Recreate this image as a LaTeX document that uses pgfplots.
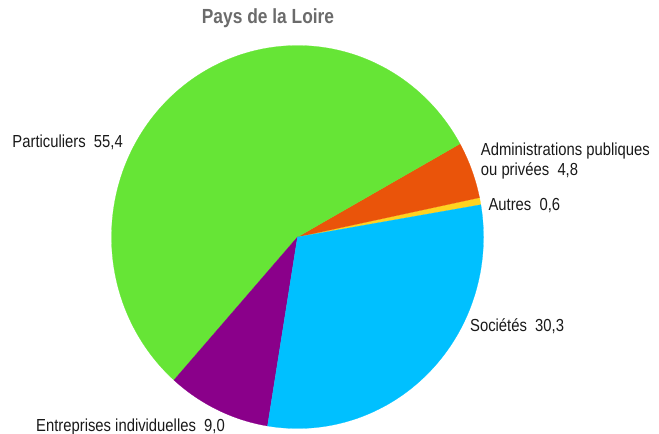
\documentclass[border=0pt]{standalone}
\usepackage{fontspec}
\setmainfont{Liberation Sans}[FakeStretch=0.85]
\usepackage{pgfplots}
\pgfplotsset{compat=1.18}

\definecolor{cPart}{HTML}{66E536}
\definecolor{cAdm}{HTML}{EA540A}
\definecolor{cAut}{HTML}{FFD320}
\definecolor{cSoc}{HTML}{00C0FF}
\definecolor{cEnt}{HTML}{8A008A}

% shares in percent, counter-clockwise from the right
\def\vAut{0.6}
\def\vAdm{4.8}
\def\vPart{55.4}
\def\vEnt{9.0}
\def\vSoc{30.3}
\pgfmathsetmacro\tot{\vAut+\vAdm+\vPart+\vEnt+\vSoc}
\pgfmathsetmacro\k{360/\tot}
\pgfmathsetmacro\aA{9.7}
\pgfmathsetmacro\aB{\aA+\k*\vAut}
\pgfmathsetmacro\aC{\aB+\k*\vAdm}
\pgfmathsetmacro\aD{\aC+\k*\vPart}
\pgfmathsetmacro\aE{\aD+\k*\vEnt}
\pgfmathsetmacro\aF{\aE+\k*\vSoc}

\tikzset{lbl/.style={text=black!90,font=\fontsize{17.5}{20}\selectfont,inner sep=0pt}}

\begin{document}
\begin{tikzpicture}
\begin{axis}[hide axis,x=186bp,y=191.5bp,
  xmin=-1.5995,xmax=1.9435,ymin=-1.0287,ymax=1.2376,clip=false]
\addplot[fill=cAut,draw=cAut,line width=0.2pt,domain=\aA:\aB,samples=6] ({cos(x)},{sin(x)}) -- (axis cs:0,0) -- cycle;
\addplot[fill=cAdm,draw=cAdm,line width=0.2pt,domain=\aB:\aC,samples=20] ({cos(x)},{sin(x)}) -- (axis cs:0,0) -- cycle;
\addplot[fill=cPart,draw=cPart,line width=0.2pt,domain=\aC:\aD,samples=150] ({cos(x)},{sin(x)}) -- (axis cs:0,0) -- cycle;
\addplot[fill=cEnt,draw=cEnt,line width=0.2pt,domain=\aD:\aE,samples=30] ({cos(x)},{sin(x)}) -- (axis cs:0,0) -- cycle;
\addplot[fill=cSoc,draw=cSoc,line width=0.2pt,domain=\aE:\aF,samples=90] ({cos(x)},{sin(x)}) -- (axis cs:0,0) -- cycle;

\node[anchor=base,inner sep=0pt,text=black!58,font=\fontsize{20.5}{24}\selectfont\bfseries] at (axis cs:-0.1586,1.1123) {Pays de la Loire};
\node[lbl,anchor=base east] at (axis cs:-0.938,0.467) {Particuliers~~55,4};
\node[lbl,anchor=base west] at (axis cs:0.985,0.4245) {Administrations publiques};
\node[lbl,anchor=base west] at (axis cs:0.985,0.320) {ou privées~~4,8};
\node[lbl,anchor=base west] at (axis cs:1.026,0.136) {Autres~~0,6};
\node[lbl,anchor=base west] at (axis cs:0.927,-0.4945) {Sociétés~~30,3};
\node[lbl,anchor=base west] at (axis cs:-1.406,-1.0172) {Entreprises individuelles~~9,0};
\end{axis}
\pgfresetboundingbox
\path[use as bounding box] (current axis.south west) rectangle (current axis.north east);
\end{tikzpicture}
\end{document}
